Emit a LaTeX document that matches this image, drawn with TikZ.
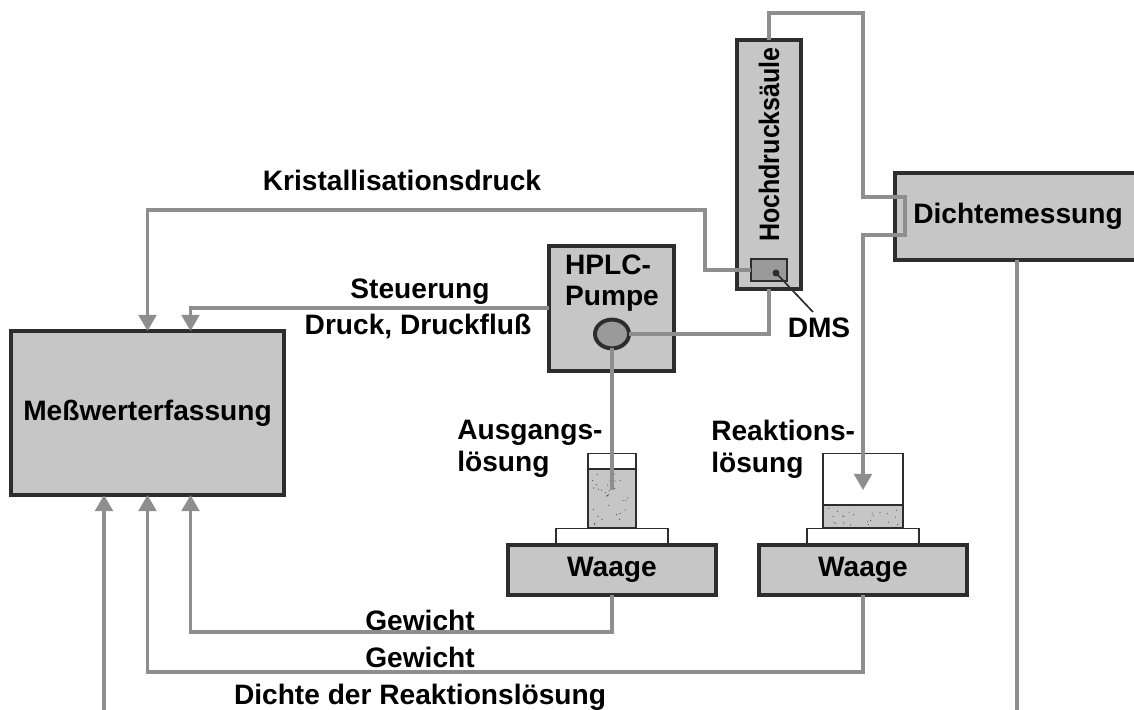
\documentclass[tikz,border=0pt]{standalone}
\usepackage{fontspec}
\setmainfont{Liberation Sans}
\usetikzlibrary{positioning, arrows.meta, calc, shapes.geometric}
\definecolor{boxgray}{HTML}{C6C6C6}
\definecolor{boxline}{HTML}{2D2D2D}
\definecolor{pipegray}{HTML}{8E8E8E}
\definecolor{sensgray}{HTML}{9A9A9A}
\begin{document}
\begin{tikzpicture}[
  x=0.025cm, y=-0.025cm,
  font=\fontsize{20}{22.5}\selectfont\bfseries,
  unit/.style = {draw=boxline, fill=boxgray, line width=2.6pt, outer sep=0pt, inner sep=0pt, align=center},
  thin/.style = {draw=boxline, line width=1.4pt, outer sep=0pt, inner sep=0pt},
  lbl/.style  = {inner sep=0pt, align=left},
  pipe/.style = {draw=pipegray, line width=2.3pt},
  flow/.style = {pipe, -{Triangle[length=0.4cm, width=0.44cm]}},
]
\useasboundingbox (0,0) rectangle (1134,710);
% plates and beakers go under the balances
\node[thin, fill=white, minimum width=2.8cm, minimum height=0.375cm] (plateA) at (612,536) {};
\node[thin, fill=white, minimum width=2.8cm, minimum height=0.375cm] (plateB) at (863,536) {};
\node[thin, fill=white, minimum width=1.2cm, minimum height=1.85cm] (glassA) at (612,490.5) {};
\node[thin, fill=white, minimum width=2.0cm, minimum height=1.85cm] (glassB) at (863,490.5) {};
\node[thin, fill=boxgray, minimum width=1.2cm, minimum height=1.475cm] (fluidA) at (612,498.5) {};
\node[thin, fill=boxgray, minimum width=2.0cm, minimum height=0.575cm] (fluidB) at (863,516.5) {};
% stipple in the liquid
\pgfmathsetseed{42}
\foreach \i in {1,...,30}{%
  \pgfmathsetmacro\cx{592+40*rnd}%
  \pgfmathsetmacro\cy{473+52*rnd}%
  \fill[black!70] (\cx,\cy) circle (0.6);%
}
\foreach \i in {1,...,22}{%
  \pgfmathsetmacro\cx{827+72*rnd}%
  \pgfmathsetmacro\cy{508+17*rnd}%
  \fill[black!70] (\cx,\cy) circle (0.6);%
}
% main units
\node[unit, minimum width=1.6cm, minimum height=6.225cm] (saeule) at (769,164.5) {};
\node[unit, minimum width=3.125cm, minimum height=3.125cm] (pumpe) at (611.5,308.5) {};
\node[unit, minimum width=6.15cm, minimum height=2.175cm] (dichte) at (1018,216.5) {Dichtemessung};
\node[unit, minimum width=6.825cm, minimum height=4.1cm] (mess) at (147.5,413) {Meßwerterfassung};
\node[unit, minimum width=5.2cm, minimum height=1.25cm] (waageA) at (612,570) {Waage};
\node[unit, minimum width=5.2cm, minimum height=1.25cm] (waageB) at (863,570) {Waage};
\node[draw=boxline, fill=sensgray, line width=1.8pt, outer sep=0pt, minimum width=0.9cm, minimum height=0.55cm] (dms) at (769,270) {};
\node[ellipse, draw=boxline, fill=sensgray, line width=2.8pt, outer sep=0pt, minimum width=0.85cm, minimum height=0.72cm] (kopf) at (612,334) {};
% labels
\node[lbl, rotate=90, xscale=0.89, transform shape] (saeuletxt) at (769,144.5) {Hochdrucksäule};
\node[lbl] (pumpetxt) at (612,283) {HPLC-\\Pumpe};
\node[lbl] (krist) at (402,180) {Kristallisationsdruck};
\node[lbl] (steuer) at (420,292) {Steuerung};
\node[lbl] (druck) at (418,326) {Druck, Druckfluß};
\node[lbl] (dmstxt) at (819,328) {DMS};
\node[lbl, anchor=west] (ausgang) at (457,449) {Ausgangs-\\lösung};
\node[lbl, anchor=west] (reaktion) at (711,449) {Reaktions-\\lösung};
\node[lbl] (gewichtA) at (420,620) {Gewicht};
\node[lbl] (gewichtB) at (420,657) {Gewicht};
\node[lbl] (dichtetitel) at (420,697) {Dichte der Reaktionslösung};
% connectors
\coordinate (obenS) at (863,13);
\coordinate (schleifeO) at (905,197);
\coordinate (schleifeU) at (905,235);
\coordinate (spitzeB) at (863,490);
\coordinate (spitzeA) at (612,490);
\coordinate (kristE) at (705,210);
\coordinate (kristM) at (147.5,210);
\coordinate (steuerM) at (190.5,308);
\coordinate (gewAy) at (190.5,632);
\coordinate (gewBy) at (147.5,672);
\coordinate (rohdichte) at (104,710);
\coordinate (dichteaus) at (1017,710);
\coordinate (dmspunkt) at (776,273);
\coordinate (dmsende) at (813,312);
\draw[flow] (saeule.north) |- (obenS) |- (schleifeO) -- (schleifeU) -| (spitzeB);
\draw[flow] (dms.west) -| (kristE) -| (kristM |- mess.north);
\draw[flow] (pumpe.west |- steuerM) -| (steuerM |- mess.north);
\draw[pipe] (kopf.east) -| (saeule.south);
\draw[pipe] (kopf.south) -- (spitzeA);
\draw[flow] (waageA.south) |- (gewAy) -| (gewAy |- mess.south);
\draw[flow] (waageB.south) |- (gewBy) -| (gewBy |- mess.south);
\draw[flow] (rohdichte) -- (rohdichte |- mess.south);
\draw[pipe] (dichteaus) -- (dichteaus |- dichte.south);
\fill[boxline] (dmspunkt) circle (3.5);
\draw[boxline, line width=1.2pt] (dmspunkt) -- (dmsende);
\end{tikzpicture}
\end{document}
